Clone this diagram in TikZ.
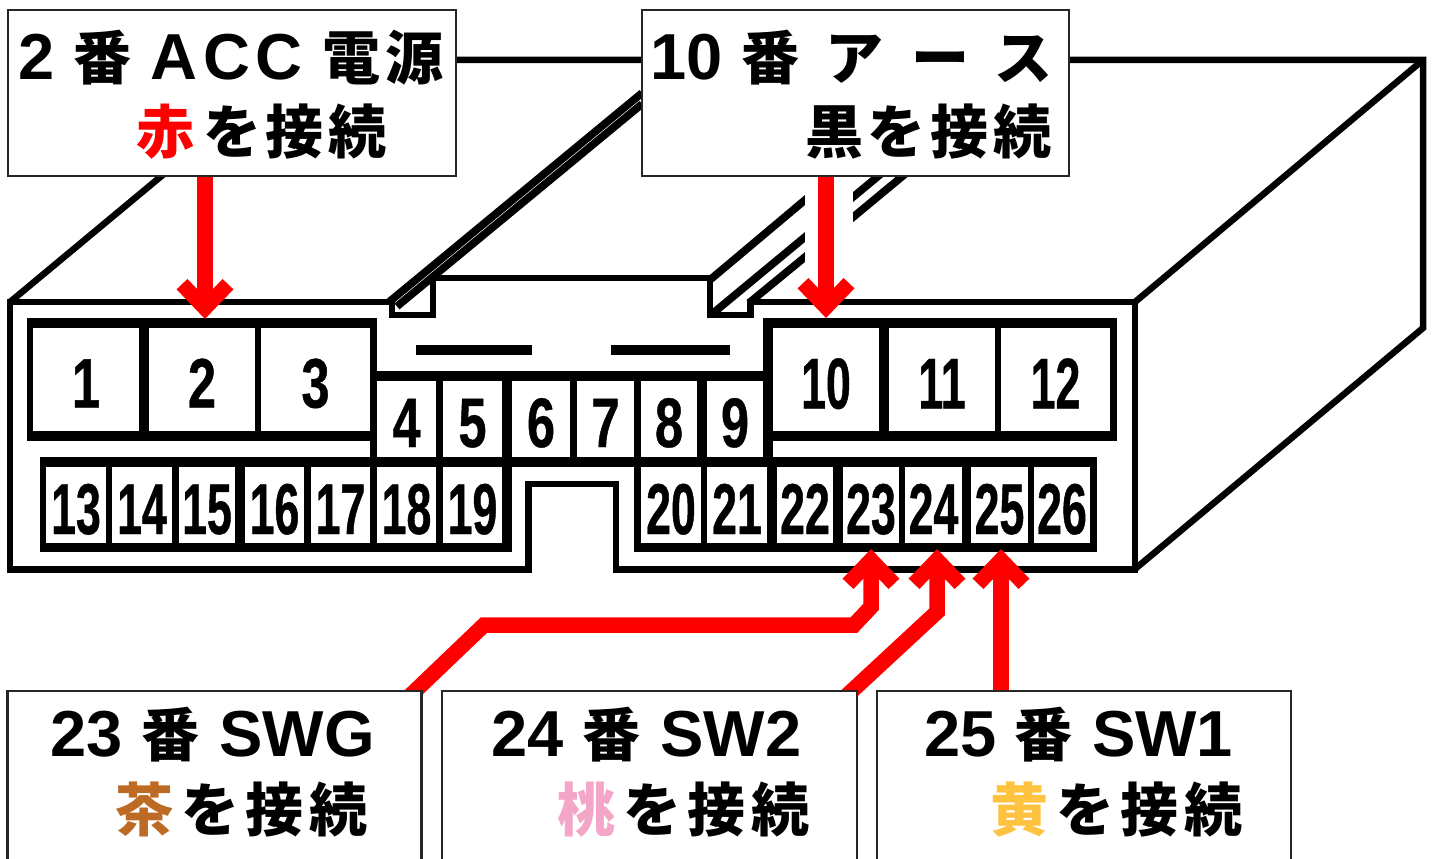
\documentclass[tikz,border=0pt]{standalone}
\usepackage{fontspec}
\usetikzlibrary{arrows.meta,calc}
\newfontfamily\latfont{Liberation Sans}
\newfontfamily\latwide{Liberation Sans}[LetterSpace=9]
\newfontfamily\jpfont{Noto Sans CJK JP}[LetterSpace=8]
\newfontfamily\jpwide{Noto Sans CJK JP}[LetterSpace=11]
\newfontfamily\pinone{Liberation Sans}[FakeStretch=0.72,FakeBold=0.6]
\newfontfamily\pintwo{Liberation Sans}[FakeStretch=0.62,FakeBold=0.6]
\newcommand{\jp}[1]{{\jpfont\bfseries\fontsize{58}{60}\selectfont #1}}
\newcommand{\jw}[1]{{\jpwide\bfseries\fontsize{58}{60}\selectfont #1}}
\definecolor{wirered}{RGB}{255,0,0}
\definecolor{chabrown}{RGB}{189,106,37}
\definecolor{momopink}{RGB}{244,166,200}
\definecolor{kiyellow}{RGB}{255,195,64}
\pgfdeclarelayer{bodylayer}
\pgfdeclarelayer{wirelayer}
\pgfsetlayers{bodylayer,wirelayer,main}
\tikzset{
    outline/.style = {line width=6.5pt, line join=miter},
    thinline/.style = {line width=7.7pt},
    backing/.style = {fill=black},
    cellone/.style = {fill=white, inner sep=0pt, text height=56pt, text depth=0pt, font=\pinone\bfseries\fontsize{70}{70}\selectfont},
    celltwo/.style = {fill=white, inner sep=0pt, text height=58pt, text depth=0pt, font=\pintwo\bfseries\fontsize{72}{72}\selectfont},
    labelbox/.style = {draw=black!85, line width=2.4pt, fill=white, inner sep=0pt},
    labeltext/.style = {anchor=base west, inner sep=0pt, font=\latfont\bfseries\fontsize{65}{70}\selectfont},
    wire/.style = {draw=wirered, line width=15.5pt, line join=miter,
        -{Straight Barb[length=24pt,width=46pt,line width=15pt]}},
}
\begin{document}
\begin{tikzpicture}[x=1pt, y=-1pt]
    \path[use as bounding box, clip] (0,0) rectangle (1432,859);

    \begin{pgfonlayer}{bodylayer}
    % back of the housing
    \draw[outline] (10,302) -- (301,60) -- (1423,60) -- (1423,328) -- (1135,569);
    \draw[outline] (1135,302) -- (1423,60);
    % guide rails
    \draw[thinline] (389,302) -- (642,93);
    \draw[thinline] (397,306.4) -- (642,104);
    \draw[thinline] (711,279) -- (805,200) -- (900,120);
    \draw[thinline] (712,314) -- (805,237) -- (900,158);
    \draw[thinline] (749,303) -- (805,257) -- (910,170);
    \fill[white] (805,177) rectangle (853,285);
    % front of the housing
    \draw[outline, fill=white] (10,302) -- (392,302) -- (392,315) -- (433,315) -- (433,278)
        -- (710,278) -- (710,315) -- (750.5,315) -- (750.5,302) -- (1135,302) -- (1135,569.5)
        -- (616,569.5) -- (616,484) -- (528.5,484) -- (528.5,569.5) -- (10,569.5) -- cycle;
    \fill (416,345) rectangle (532,355);
    \fill (611,345) rectangle (730,355);
    % black behind the cavities
    \fill[backing] (27,318) rectangle (377,441);
    \fill[backing] (763,318) rectangle (1117,441);
    \fill[backing] (370,371) rectangle (773,467);
    \fill[backing] (40,457) rectangle (512,552);
    \fill[backing] (634,457) rectangle (1097,552);
    % cavities
    \foreach \n/\xa/\xb in {1/33/139, 2/149/255, 3/261/370}
        \node[cellone, minimum width={(\xb-\xa)*1pt}, minimum height=103pt] (p\n) at ({(\xa+\xb)/2},379.5) {\n};
    \foreach \n/\xa/\xb in {10/773/879, 11/889/995, 12/1001/1110}
        \node[celltwo, minimum width={(\xb-\xa)*1pt}, minimum height=103pt] (p\n) at ({(\xa+\xb)/2},379.5) {\n};
    \foreach \n/\xa/\xb in {4/377/436, 5/443/502, 6/512/570, 7/577/634, 8/641/697, 9/707/763}
        \node[cellone, minimum width={(\xb-\xa)*1pt}, minimum height=76pt] (p\n) at ({(\xa+\xb)/2},419) {\n};
    \foreach \n/\xa/\xb in {13/46/106, 14/112/172, 15/179/235, 16/245/304, 17/311/370, 18/377/436, 19/443/502,
        20/641/701, 21/707/767, 22/777/833, 23/843/899, 24/905/962, 25/971/1028, 26/1034/1090}
        \node[celltwo, minimum width={(\xb-\xa)*1pt}, minimum height=76pt] (p\n) at ({(\xa+\xb)/2},505) {\n};
    \end{pgfonlayer}

    % labels
    \node[labelbox, minimum width=448pt, minimum height=165.5pt] (l2) at (232,93) {};
    \node[labelbox, minimum width=427pt, minimum height=165.5pt] (l10) at (855.5,93) {};
    \node[labelbox, minimum width=414pt, minimum height=179pt] (l23) at (214.5,780.5) {};
    \node[labelbox, minimum width=415pt, minimum height=179pt] (l24) at (649.5,780.5) {};
    \node[labelbox, minimum width=414pt, minimum height=179pt] (l25) at (1084,780.5) {};

    \node[labeltext] (l2a) at (18,79) {2\hspace{19pt}\jp{番}\hspace{19pt}{\latwide ACC}\hspace{20pt}\jp{電源}};
    \node[labeltext] (l2b) at (136,153) {\jp{\textcolor{wirered}{赤}\hspace{9pt}を接続}};
    \node[labeltext] (l10a) at (650,79) {10\hspace{19pt}\jp{番}\hspace{26pt}\jp{ア}\hspace{28pt}\jp{ー}\hspace{25pt}\jp{ス}};
    \node[labeltext] (l10b) at (805,153) {\jp{黒を接続}};
    \node[labeltext] (l23a) at (50,756) {23\hspace{19pt}\jp{番}\hspace{20pt}SWG};
    \node[labeltext] (l23b) at (115,831) {\jw{\textcolor{chabrown}{茶}\hspace{8pt}を接続}};
    \node[labeltext] (l24a) at (491,756) {24\hspace{19pt}\jp{番}\hspace{20pt}SW2};
    \node[labeltext] (l24b) at (557,831) {\jw{\textcolor{momopink}{桃}\hspace{8pt}を接続}};
    \node[labeltext] (l25a) at (924,756) {25\hspace{18pt}\jp{番}\hspace{19.5pt}SW1};
    \node[labeltext] (l25b) at (990,831) {\jw{\textcolor{kiyellow}{黄}\hspace{8pt}を接続}};

    % arrow ends
    \coordinate (t2) at (205,319);
    \coordinate (t10) at (826,318);
    \coordinate (t23) at (871,549);
    \coordinate (t24) at (937,549);
    \coordinate (t25) at (1001,549);

    \begin{pgfonlayer}{wirelayer}
    \draw[wire] (l2.south -| t2) -- (t2);
    \draw[wire] (l10.south -| t10) -- (t10);
    \draw[wire] ([shift={(-20,13)}]l23.north east) -- (484,625) -- (854,625) -- (871,607) -- (t23);
    \draw[wire] ([shift={(-17,11)}]l24.north east) -- (937,612) -- (t24);
    \draw[wire] (l25.north -| t25) -- (t25);
    \end{pgfonlayer}
\end{tikzpicture}
\end{document}
